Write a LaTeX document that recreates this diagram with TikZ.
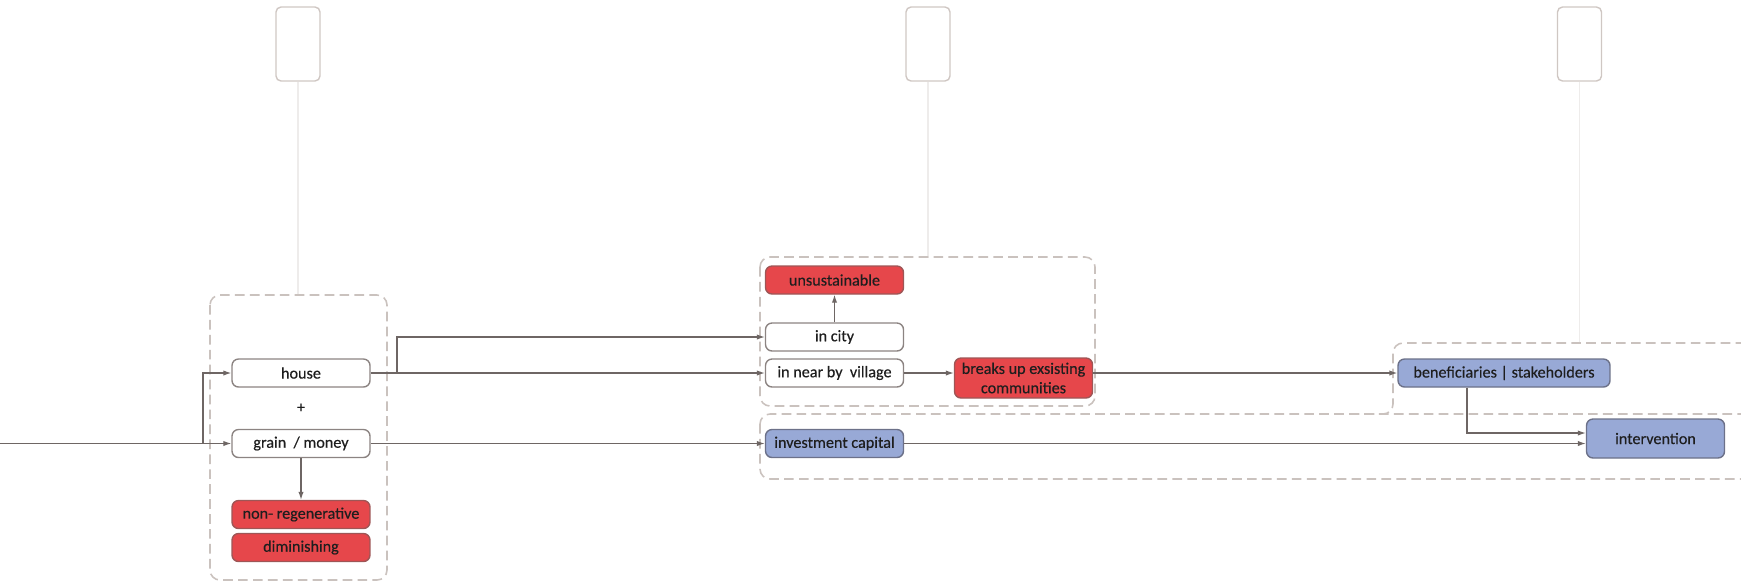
\documentclass[tikz,border=0pt]{standalone}
\usepackage{fontspec}
\setmainfont[FakeBold=0.35]{Carlito}
\usepackage{xcolor}
\usepackage{tikz}
\usetikzlibrary{arrows.meta}
\usetikzlibrary{positioning}
\tikzset{>={Latex[length=4.5pt,width=3pt]}}

\definecolor{linegray}{HTML}{6E6664}
\definecolor{boxgray}{HTML}{8C8482}
\definecolor{dashgray}{HTML}{CAC2BE}
\definecolor{tabgray}{HTML}{CFC7C3}
\definecolor{guidegray}{HTML}{EEECEB}
\definecolor{textdark}{HTML}{1E1E1E}
\definecolor{badred}{HTML}{E6474B}
\definecolor{badredline}{HTML}{9E5656}
\definecolor{softblue}{HTML}{98A9D6}
\definecolor{softblueline}{HTML}{6C7189}

\tikzset{
    plainbox/.style={
        draw=boxgray, line width=0.8pt, rounded corners=0.13cm,
        fill=white, text=textdark, inner sep=1pt,
        minimum width=2.76cm, minimum height=0.56cm,
        font=\fontsize{9.2}{11}\selectfont,
    },
    redbox/.style={plainbox, fill=badred, draw=badredline},
    bluebox/.style={plainbox, fill=softblue, draw=softblueline},
    groupline/.style={
        draw=dashgray, line width=0.9pt, rounded corners=0.2cm,
        dash pattern=on 5.5pt off 3pt,
    },
    tabbox/.style={
        draw=tabgray, line width=0.8pt, rounded corners=0.1cm,
        minimum width=0.88cm, minimum height=1.48cm,
    },
    guide/.style={draw=guidegray, line width=0.7pt},
    flow/.style={->, draw=linegray, line width=0.65pt},
}

\begin{document}
\begin{tikzpicture}[x=0.02cm, y=-0.02cm]
    \useasboundingbox (0,0) rectangle (1741,583);

    % column tabs
    \node[tabbox] (tabA) at (298,44) {};
    \node[tabbox] (tabB) at (928,44) {};
    \node[tabbox] (tabC) at (1579.5,44) {};
    \draw[guide] (tabA.south) -- ++(0,214);
    \draw[guide] (tabB.south) -- ++(0,176);
    \draw[guide] (tabC.south) -- ++(0,262);

    % groups
    \draw[groupline] (210,295) rectangle (387,580);
    \draw[groupline] (760,257) rectangle (1095,406);
    \draw[groupline] (760,414) rectangle (1790,479);
    \draw[groupline] (1790,343) -- (1393,343) -- (1393,414) -- (1350,414);

    % resources
    \node[plainbox] (house) at (301,373) {house};
    \node[text=textdark, font=\fontsize{9}{11}\selectfont] (plus) at (301,408) {+};
    \node[plainbox] (grain) at (301,443.5) {grain\ \ / money};
    \node[redbox] (nonregen) at (301,514.5) {non- regenerative};
    \node[redbox] (dimin) at (301,547.5) {diminishing};

    % where it goes
    \node[redbox] (unsust) at (834.5,280) {unsustainable};
    \node[plainbox] (incity) at (834.5,337) {in city};
    \node[plainbox] (village) at (834.5,373) {in near by\ \ village};
    \node[redbox, align=center, minimum height=0.8cm, inner sep=0pt]
        (breaks) at (1023.5,378) {breaks up exsisting\\communities};
    \node[bluebox] (invest) at (834.5,443.5) {investment capital};

    % outcome
    \node[bluebox, minimum width=4.24cm] (benef) at (1504,373) {beneficiaries | stakeholders};
    \node[bluebox, minimum height=0.78cm] (interv) at (1655.5,438.5) {intervention};

    % connectors
    \coordinate (start) at (0,443.5);
    \coordinate (split) at (203,443.5);
    \coordinate (fork) at (397,373);
    \draw[flow] (start) -- (grain);
    \draw[flow] (split) |- (house);
    \draw[flow] (house) -- (village);
    \draw[flow] (fork) |- (incity);
    \draw[flow] (grain) -- (nonregen);
    \draw[flow] (incity) -- (unsust);
    \draw[flow] (village) -- (village -| breaks.west);
    \draw[flow] (breaks.east |- benef) -- (benef);
    \draw[flow] (grain) -- (invest);
    \draw[flow] (invest) -- (invest -| interv.west);
    \draw[flow] (benef.south -| 1467,0) |- ([yshift=0.11cm]interv.west);
\end{tikzpicture}
\end{document}
